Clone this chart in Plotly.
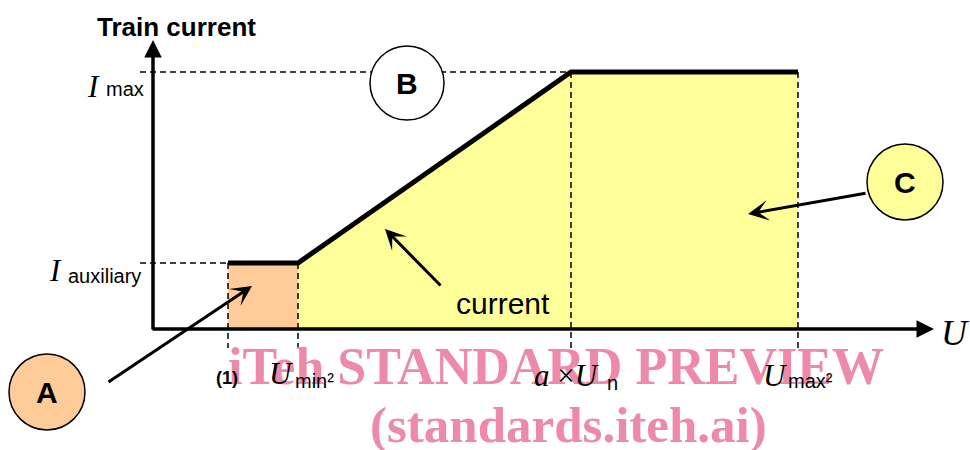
import plotly.graph_objects as go

# schematic values, in axis units (origin = axis crossing)
u_breaks = [75, 145, 418, 645]          # (1), U_min2, a x U_n, U_max2
i_levels = [66, 257]                    # I_auxiliary, I_max
x_tick_labels = ["(1)", "U min²", "a × U n", "U max²"]

X0, Y0 = 153, 329  # pixel of the origin


def px(x, y):
    return x - X0, Y0 - y


SANS = "Liberation Sans, Arial, sans-serif"
SERIF = "Liberation Serif, Times New Roman, serif"
ORANGE = "#FFCC99"
YELLOW = "#FFFF99"

u_aux, u_min, u_an, u_max = u_breaks
i_aux, i_max = i_levels

fig = go.Figure()

# filled regions
fig.add_trace(go.Scatter(
    x=[u_aux, u_aux, u_min, u_min], y=[0, i_aux, i_aux, 0],
    fill="toself", fillcolor=ORANGE, mode="none", hoverinfo="skip"))
fig.add_trace(go.Scatter(
    x=[u_min, u_min, u_an, u_max, u_max], y=[0, i_aux, i_max, i_max, 0],
    fill="toself", fillcolor=YELLOW, mode="none", hoverinfo="skip"))

# dashed guide lines
gx, gy = [], []
for u, lvl in [(u_an, i_max), (u_aux, i_aux)]:
    gx += [-13, u, None]
    gy += [lvl, lvl, None]
for u, lvl in zip(u_breaks, [i_aux, i_aux, i_max, i_max]):
    gx += [u, u, None]
    gy += [lvl, -19, None]
fig.add_trace(go.Scatter(
    x=gx, y=gy, mode="lines", hoverinfo="skip",
    line=dict(color="black", width=1.5, dash="6px,4px")))

# train current curve
fig.add_trace(go.Scatter(
    x=[u_aux, u_min, u_an, u_max], y=[i_aux, i_aux, i_max, i_max],
    mode="lines", hoverinfo="skip",
    line=dict(color="black", width=5)))

ann = []


def arrow(tip, tail, width, head, size):
    tx, ty = px(*tip)
    ax, ay = px(*tail)
    ann.append(dict(x=tx, y=ty, ax=ax, ay=ay, xref="x", yref="y",
                    axref="x", ayref="y", showarrow=True, text="",
                    arrowhead=head, arrowsize=size, arrowwidth=width,
                    arrowcolor="black", standoff=0, startstandoff=0))


def label(x, y, text, size, font=SANS, anchor="center", color="black"):
    lx, ly = px(x, y)
    ann.append(dict(x=lx, y=ly, xref="x", yref="y", text=text,
                    showarrow=False, xanchor=anchor, yanchor="middle",
                    font=dict(family=font, size=size, color=color)))


# axes
arrow((153, 40), (153, 331), 3.5, 2, 1.0)
arrow((934, 329), (151, 329), 3.5, 2, 1.0)

# pointers
arrow((385, 229), (442, 287), 3, 3, 1.15)
arrow((252, 286), (107, 383), 3, 3, 1.15)
arrow((748, 214), (867, 193), 3, 3, 1.15)

# watermark
label(556, 366, "<b>iTeh STANDARD PREVIEW</b>", 52, SERIF, color="#EE8AA9")
label(568, 425, "<b>(standards.iteh.ai)</b>", 51, SERIF, color="#EE8AA9")

# axis texts
label(176, 27, "<b>Train current</b>", 26)
label(102, 86, "<i>I</i>", 31, SERIF, "right")
label(104, 89, "max", 20, SANS, "left")
label(64, 270, "<i>I</i>", 31, SERIF, "right")
label(66, 276, "auxiliary", 20, SANS, "left")
label(955, 333, "<i>U</i>", 36, SERIF)
label(503, 303, "current", 30)

# tick-like labels under the U axis
label(227, 378, "<b>" + x_tick_labels[0] + "</b>", 18)
label(281, 373, "<i>U</i>", 31, SERIF)
label(293, 381, "min²", 20, SANS, "left")
label(567, 375, "<i>a</i> ×<i>U</i>", 31, SERIF)
label(605, 383, "n", 20, SANS, "left")
label(775, 375, "<i>U</i>", 31, SERIF)
label(786, 381, "max²", 20, SANS, "left")

# circled markers
shapes = []
for (cx, cy), r, fill, letter in [((47, 392), 38, ORANGE, "A"),
                                  ((407, 83), 37, "white", "B"),
                                  ((905, 182), 38, YELLOW, "C")]:
    x0, y0 = px(cx - r, cy + r)
    x1, y1 = px(cx + r, cy - r)
    shapes.append(dict(type="circle", xref="x", yref="y", x0=x0, y0=y0,
                       x1=x1, y1=y1, fillcolor=fill,
                       line=dict(color="black", width=1.5)))
    label(cx, cy, "<b>" + letter + "</b>", 30)

fig.update_layout(
    width=970, height=450, margin=dict(l=0, r=0, t=0, b=0),
    paper_bgcolor="white", plot_bgcolor="white", showlegend=False,
    xaxis=dict(range=[-X0, 970 - X0], visible=False, fixedrange=True),
    yaxis=dict(range=[Y0 - 450, Y0], visible=False, fixedrange=True),
    shapes=shapes, annotations=ann,
)

# drop the browser's default page margin so the figure fills the window
fig.write_html("out.html", config={"displayModeBar": False},
               post_script="document.body.style.margin = '0';")
